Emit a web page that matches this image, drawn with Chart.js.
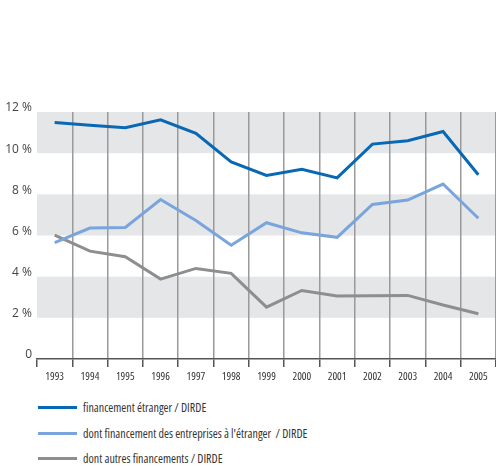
<!DOCTYPE html>
<html>
<head>
<meta charset="utf-8">
<script src="https://cdn.jsdelivr.net/npm/chart.js@4.4.1/dist/chart.umd.min.js"></script>
<style>
  body { margin: 0; background: #fff; width: 496px; height: 468px; overflow: hidden; }
  .wrap { position: absolute; left: 0; top: 0; width: 496px; height: 390px; }
  .legend { position: absolute; left: 38px; top: 395px; font-family: "Open Sans", sans-serif; font-stretch: condensed; font-size: 12px; color: #333; }
  .legend div { height: 25.5px; display: flex; align-items: center; }
  .legend span.sw { display: inline-block; width: 39px; height: 3px; margin-right: 6px; }
</style>
</head>
<body>
<div class="wrap"><canvas id="chart"></canvas></div>
<div class="legend" id="legend"></div>
<script>
// data
const years = ["1993", "1994", "1995", "1996", "1997", "1998", "1999", "2000", "2001", "2002", "2003", "2004", "2005"];
const financementEtranger = [11.49, 11.36, 11.24, 11.62, 10.96, 9.58, 8.92, 9.22, 8.8, 10.44, 10.6, 11.05, 8.95];
const entreprisesEtranger = [5.65, 6.36, 6.39, 7.75, 6.73, 5.53, 6.62, 6.13, 5.91, 7.51, 7.72, 8.5, 6.84];
const autresFinancements = [6.02, 5.24, 4.97, 3.88, 4.4, 4.16, 2.52, 3.33, 3.06, 3.07, 3.09, 2.62, 2.2];
const yTicks = [0, 2, 4, 6, 8, 10, 12];
const bands = [[10, 12], [6, 8], [2, 4]];

const series = [
  { label: "financement étranger / DIRDE", data: financementEtranger, color: "#0868b4" },
  { label: "dont financement des entreprises à l'étranger  / DIRDE", data: entreprisesEtranger, color: "#7aa5dc" },
  { label: "dont autres financements / DIRDE", data: autresFinancements, color: "#8e8e8e" },
];

// "condensed" rides along in the weight slot of the canvas font string
const narrowFont = (size) => ({ family: "'Open Sans', sans-serif", size: size, weight: "normal condensed" });

// grey bands behind the grid
const bandPlugin = {
  id: "bands",
  beforeDraw(chart) {
    const { ctx, chartArea, scales } = chart;
    ctx.save();
    ctx.fillStyle = "#e5e6e8";
    bands.forEach(([lo, hi]) => {
      const top = scales.y.getPixelForValue(hi);
      const bottom = scales.y.getPixelForValue(lo);
      ctx.fillRect(chartArea.left, top, chartArea.right - chartArea.left, bottom - top);
    });
    ctx.restore();
  },
};

const ctx = document.getElementById("chart").getContext("2d");

new Chart(ctx, {
  type: "line",
  data: {
    labels: years,
    datasets: series.map((s) => ({
      label: s.label,
      data: s.data,
      borderColor: s.color,
      backgroundColor: s.color,
      borderWidth: 3,
      pointRadius: 0,
      tension: 0,
    })),
  },
  options: {
    responsive: true,
    maintainAspectRatio: false,
    animation: false,
    layout: { padding: { top: 112, left: 0, right: 0, bottom: 0 } },
    plugins: {
      legend: { display: false },
      tooltip: { enabled: false },
    },
    scales: {
      x: {
        offset: true,
        grid: {
          offset: true,
          color: (c) => (c.index === 0 || c.index === years.length ? "rgba(0,0,0,0)" : "#9a9a9a"),
          lineWidth: 1.5,
          tickColor: "#555",
          tickLength: 8,
        },
        border: { display: true, color: "#555", width: 1.5 },
        ticks: {
          color: "#333",
          font: narrowFont(11),
          padding: 3,
          maxRotation: 0,
          autoSkip: false,
        },
        afterFit(scale) {
          scale.height = 31;
        },
      },
      y: {
        min: 0,
        max: 12,
        afterBuildTicks(scale) {
          scale.ticks = yTicks.map((v) => ({ value: v }));
        },
        grid: { display: false, drawTicks: false },
        border: { display: false },
        ticks: {
          color: "#444",
          font: { family: "'Open Sans', sans-serif", size: 12 },
          padding: 5,
          labelOffset: -4,
          callback: (v) => (v === 0 ? "0" : v + " %"),
        },
        afterFit(scale) {
          scale.width = 37;
        },
      },
    },
  },
  plugins: [bandPlugin],
});

// legend under the chart
const legend = document.getElementById("legend");
series.forEach((s) => {
  const row = document.createElement("div");
  row.innerHTML = '<span class="sw" style="background:' + s.color + '"></span>' + s.label.replace(/  /g, " &nbsp;");
  legend.appendChild(row);
});
</script>
</body>
</html>
